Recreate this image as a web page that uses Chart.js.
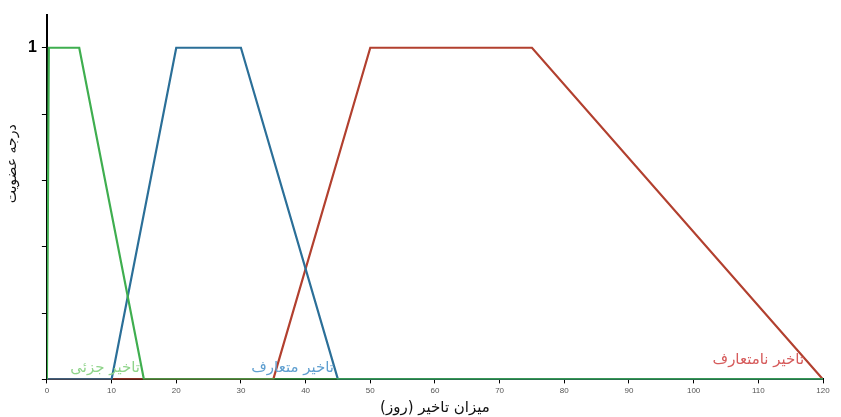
<!DOCTYPE html>
<html>
<head>
<meta charset="utf-8">
<script src="https://cdn.jsdelivr.net/npm/chart.js@4"></script>
<style>
  html, body { margin: 0; padding: 0; background: #fff; }
  #wrap { width: 841px; height: 417px; }
</style>
</head>
<body>
<div id="wrap"><canvas id="grafico"></canvas></div>
<script>
// دادهها
const nomes = ["تاخیر جزئی", "تاخیر متعارف", "تاخیر نامتعارف"];
const xJozi = [0, 0.3, 5, 15, 120];
const yJozi = [0, 1, 1, 0, 0];
const xMotaaref = [0, 10, 20, 30, 45, 120];
const yMotaaref = [0, 0, 1, 1, 0, 0];
const xNamotaaref = [0, 35, 50, 75, 120];
const yNamotaaref = [0, 0, 1, 1, 0];
const xTicks = [0, 10, 20, 30, 40, 50, 60, 70, 80, 90, 100, 110, 120];
const tituloY = "درجه عضویت";
// جای برچسب هر منحنی (x, y روی محور)
const labelX = [9, 38, 110];
const labelY = [0.012, 0.012, 0.035];

const cores = ["#3fae4f", "#2b6f98", "#b2402f"];
const coresLabel = ["#8fd48a", "#5f9fd0", "#d65b5b"];

function pontos(xs, ys) {
  return xs.map((x, i) => ({ x: x, y: ys[i] }));
}

const rotulos = {
  id: "rotulos",
  afterDatasetsDraw(chart) {
    const ctx = chart.ctx;
    const sx = chart.scales.x, sy = chart.scales.y;
    ctx.save();
    ctx.font = "15px 'DejaVu Sans'";
    ctx.textAlign = "center";
    ctx.textBaseline = "bottom";
    ctx.direction = "rtl";
    nomes.forEach((n, i) => {
      ctx.fillStyle = coresLabel[i];
      ctx.fillText(n, sx.getPixelForValue(labelX[i]), sy.getPixelForValue(labelY[i]));
    });
    // título do eixo y, um pouco acima do centro como no original
    ctx.translate(12, sy.getPixelForValue(0.65));
    ctx.rotate(-Math.PI / 2);
    ctx.textBaseline = "middle";
    ctx.fillStyle = "#111";
    ctx.font = "14px 'DejaVu Sans'";
    ctx.fillText(tituloY, 0, 0);
    ctx.restore();
  }
};

const ctx = document.getElementById("grafico").getContext("2d");
new Chart(ctx, {
  type: "line",
  data: {
    datasets: [
      { label: nomes[0], data: pontos(xJozi, yJozi), borderColor: cores[0] },
      { label: nomes[1], data: pontos(xMotaaref, yMotaaref), borderColor: cores[1] },
      { label: nomes[2], data: pontos(xNamotaaref, yNamotaaref), borderColor: cores[2] }
    ]
  },
  options: {
    responsive: true,
    maintainAspectRatio: false,
    animation: false,
    layout: { padding: { top: 14, right: 18, left: 23, bottom: 0 } },
    elements: {
      point: { radius: 0 },
      line: { borderWidth: 2.2, tension: 0 }
    },
    plugins: {
      legend: { display: false },
      tooltip: { enabled: false }
    },
    scales: {
      x: {
        type: "linear",
        min: 0,
        max: 120,
        afterBuildTicks: (axis) => { axis.ticks = xTicks.map(v => ({ value: v })); },
        grid: { drawOnChartArea: false, drawTicks: true, tickLength: 4, color: "#000" },
        border: { display: true, color: "#000", width: 2 },
        ticks: { color: "#555", font: { size: 8 }, padding: 3, maxRotation: 0 },
        title: {
          display: true,
          text: "میزان تاخیر (روز)",
          color: "#111",
          font: { size: 15, family: "'DejaVu Sans'" },
          padding: { top: 0, bottom: 0 }
        }
      },
      y: {
        min: 0,
        max: 1.1,
        afterBuildTicks: (axis) => { axis.ticks = [0, 0.2, 0.4, 0.6, 0.8, 1].map(v => ({ value: v })); },
        grid: { drawOnChartArea: false, drawTicks: true, tickLength: 5, color: "#000" },
        border: { display: true, color: "#000", width: 2 },
        ticks: {
          color: "#000",
          font: { size: 16, weight: "bold" },
          padding: 5,
          callback: (v) => (v === 1 ? "1" : "")
        }
      }
    }
  },
  plugins: [rotulos]
});
</script>
</body>
</html>
